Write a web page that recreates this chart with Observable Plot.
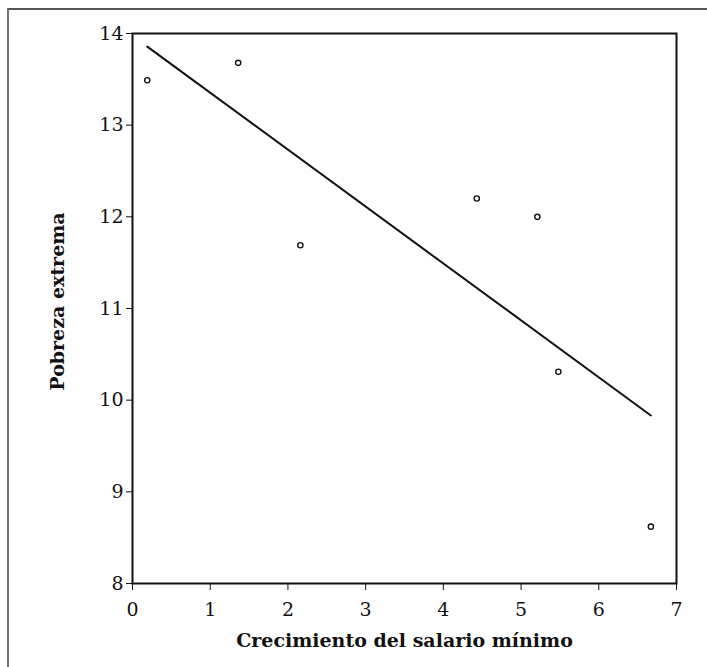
<!DOCTYPE html>
<html>
<head>
<meta charset="utf-8">
<script src="https://cdn.jsdelivr.net/npm/d3@7"></script>
<script src="https://cdn.jsdelivr.net/npm/@observablehq/plot@0.6"></script>
<style>
  html, body { margin: 0; padding: 0; background: #fff; }
  #wrap { position: relative; width: 707px; height: 667px; overflow: hidden; }
  #border { position: absolute; left: 7px; top: 8px; width: 720px; height: 700px;
            border-top: 2px solid #555; border-left: 2px solid #777; box-sizing: border-box; }
  #chart { position: absolute; left: 0; top: 0; }
</style>
</head>
<body>
<div id="wrap"><div id="border"></div><div id="chart"></div></div>
<script>
const salario = [0.19, 1.36, 2.16, 4.43, 5.21, 5.48, 6.67];
const pobreza = [13.49, 13.68, 11.69, 12.20, 12.00, 10.31, 8.62];
const xTicks = [0, 1, 2, 3, 4, 5, 6, 7];
const yTicks = [8, 9, 10, 11, 12, 13, 14];
const xLabel = "Crecimiento del salario mínimo";
const yLabel = "Pobreza extrema";

const data = salario.map((x, i) => ({x, y: pobreza[i]}));

const chart = Plot.plot({
  width: 707,
  height: 667,
  marginLeft: 132,
  marginRight: 31,
  marginTop: 33,
  marginBottom: 84,
  style: {fontFamily: "'DejaVu Serif', serif", fontSize: "19px", color: "#111", background: "transparent"},
  x: {domain: [0, 7], label: null},
  y: {domain: [8, 14], label: null},
  marks: [
    Plot.frame({stroke: "#111", strokeWidth: 2}),
    Plot.axisX({ticks: xTicks, tickFormat: "d", tickSize: 7, tickPadding: 12, fontSize: 19, label: null}),
    Plot.axisY({ticks: yTicks, tickFormat: "d", tickSize: 6, tickPadding: 3, fontSize: 19, label: null}),
    Plot.linearRegressionY(data, {x: "x", y: "y", ci: 0, stroke: "#111", strokeWidth: 2}),
    Plot.dot(data, {x: "x", y: "y", r: 2.6, stroke: "#111", fill: "white", strokeWidth: 1.4}),
    Plot.text([xLabel], {frameAnchor: "bottom", dy: 63, fontSize: 19, fontWeight: "bold", fill: "#111"}),
    Plot.text([yLabel], {frameAnchor: "left", dx: -75, dy: -7, rotate: -90, textAnchor: "middle", fontSize: 19, fontWeight: "bold", fill: "#111"})
  ]
});
document.getElementById("chart").appendChild(chart);
</script>
</body>
</html>
